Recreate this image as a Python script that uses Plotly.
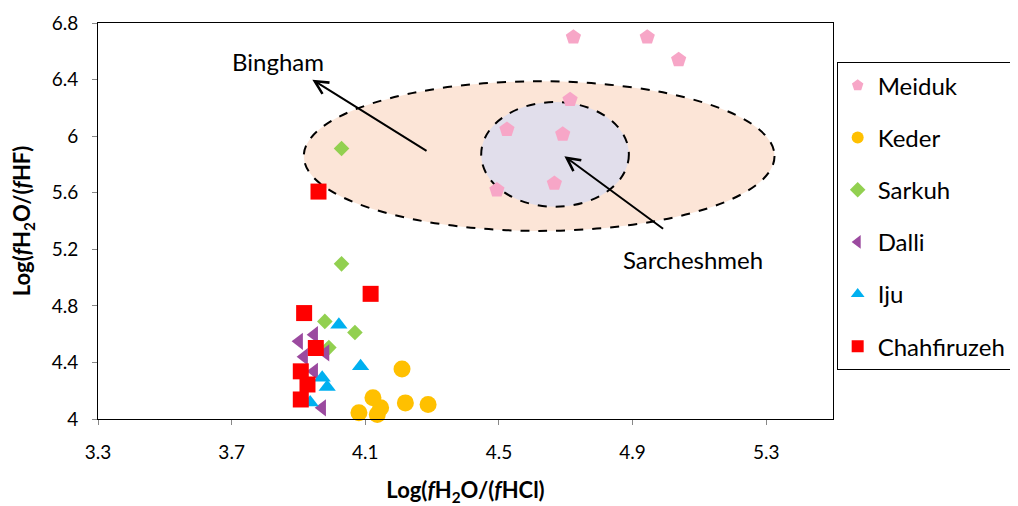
import plotly.graph_objects as go

# ---- data ----
meiduk_x = [4.723, 4.944, 5.038, 4.713, 4.524, 4.691, 4.666, 4.494]
meiduk_y = [6.70, 6.70, 6.54, 6.258, 6.047, 6.014, 5.666, 5.619]

keder_x = [4.210, 4.123, 4.220, 4.288, 4.146, 4.081, 4.136]
keder_y = [4.354, 4.150, 4.114, 4.103, 4.079, 4.044, 4.032]

sarkuh_x = [4.029, 4.029, 3.979, 4.069, 3.991]
sarkuh_y = [5.913, 5.097, 4.690, 4.612, 4.505]

dalli_x = [3.902, 3.947, 3.981, 3.917, 3.947, 3.971]
dalli_y = [4.549, 4.596, 4.467, 4.440, 4.337, 4.079]

iju_x = [4.021, 4.086, 3.971, 3.986, 3.935]
iju_y = [4.667, 4.373, 4.291, 4.226, 4.117]

chah_x = [3.960, 4.116, 3.917, 3.952, 3.907, 3.927, 3.907]
chah_y = [5.608, 4.885, 4.749, 4.502, 4.337, 4.244, 4.138]

x_ticks = [3.3, 3.7, 4.1, 4.5, 4.9, 5.3]
x_ticktext = ["3.3", "3.7", "4.1", "4.5", "4.9", "5.3"]
y_ticks = [4.0, 4.4, 4.8, 5.2, 5.6, 6.0, 6.4, 6.8]
y_ticktext = ["4", "4.4", "4.8", "5.2", "5.6", "6", "6.4", "6.8"]

# ellipse extents (data units)
bingham_box = [3.916, 5.325, 5.330, 6.388]
sarch_box = [4.447, 4.889, 5.501, 6.241]

FONT = "Lato"

fig = go.Figure()

series = [
    ("Meiduk", meiduk_x, meiduk_y, "pentagon", "#F7A6C7", 16),
    ("Keder", keder_x, keder_y, "circle", "#FFC000", 17),
    ("Sarkuh", sarkuh_x, sarkuh_y, "diamond", "#92D050", 12),
    ("Dalli", dalli_x, dalli_y, "triangle-left", "#9B4A9F", 15),
    ("Iju", iju_x, iju_y, "triangle-up", "#00B0F0", 15),
    ("Chahfiruzeh", chah_x, chah_y, "square", "#FF0000", 16),
]
for name, xs, ys, sym, col, sz in series:
    fig.add_trace(go.Scatter(
        x=xs, y=ys, mode="markers", name=name, legendgroup=name,
        marker=dict(symbol=sym, color=col, size=sz, line=dict(width=0)),
        cliponaxis=False,
    ))

# ellipses
fig.add_shape(type="circle", xref="x", yref="y",
              x0=bingham_box[0], x1=bingham_box[1], y0=bingham_box[2], y1=bingham_box[3],
              fillcolor="#FCE5D7", line=dict(color="black", width=2, dash="dash"), layer="below")
fig.add_shape(type="circle", xref="x", yref="y",
              x0=sarch_box[0], x1=sarch_box[1], y0=sarch_box[2], y1=sarch_box[3],
              fillcolor="#E1DEEB", line=dict(color="black", width=2, dash="dash"), layer="below")

# arrows
fig.add_annotation(x=3.9415, y=6.399, ax=4.2878, ay=5.889, xref="x", yref="y",
                   axref="x", ayref="y", text="", showarrow=True,
                   arrowhead=5, arrowsize=1.3, arrowwidth=2, arrowcolor="black")
fig.add_annotation(x=4.696, y=5.8585, ax=4.996, ay=5.337, xref="x", yref="y",
                   axref="x", ayref="y", text="", showarrow=True,
                   arrowhead=5, arrowsize=1.3, arrowwidth=2, arrowcolor="black")
fig.add_annotation(x=3.839, y=6.525, xref="x", yref="y", text="Bingham", showarrow=False,
                   font=dict(family=FONT, size=24, color="black"))
fig.add_annotation(x=5.081, y=5.126, xref="x", yref="y", text="Sarcheshmeh", showarrow=False,
                   font=dict(family=FONT, size=24, color="black"))

fig.update_layout(
    width=1010, height=498,
    margin=dict(l=90.4, r=185, t=14.7, b=86.7, autoexpand=False),
    paper_bgcolor="white", plot_bgcolor="white",
    font=dict(family=FONT, size=19, color="black"),
    showlegend=True,
    legend=dict(x=1.005, y=0.901, xanchor="left", yanchor="top",
                bordercolor="black", borderwidth=1, bgcolor="white",
                font=dict(family=FONT, size=24, color="black"),
                tracegroupgap=18, itemsizing="constant"),
    xaxis=dict(range=[3.3, 5.5], tickvals=x_ticks, ticktext=x_ticktext,
               showgrid=False, zeroline=False, showline=True, linecolor="black",
               linewidth=1, mirror=True, ticks="outside", ticklen=5, tickcolor="#888",
               ticklabelstandoff=11, automargin=False,
               title=dict(text="<b>Log(<i>f</i>H<sub>2</sub>O/(<i>f</i>HCl)</b>",
                          font=dict(family=FONT, size=22), standoff=24)),
    yaxis=dict(range=[4.0, 6.8], tickvals=y_ticks, ticktext=y_ticktext,
               showgrid=False, zeroline=False, showline=True, linecolor="black",
               linewidth=1, mirror=True, ticks="outside", ticklen=5, tickcolor="#888",
               ticklabelstandoff=10, automargin=False,
               title=dict(text="<b>Log(<i>f</i>H<sub>2</sub>O/(<i>f</i>HF)</b>",
                          font=dict(family=FONT, size=22), standoff=23)),
)

fig.write_html("out.html")
